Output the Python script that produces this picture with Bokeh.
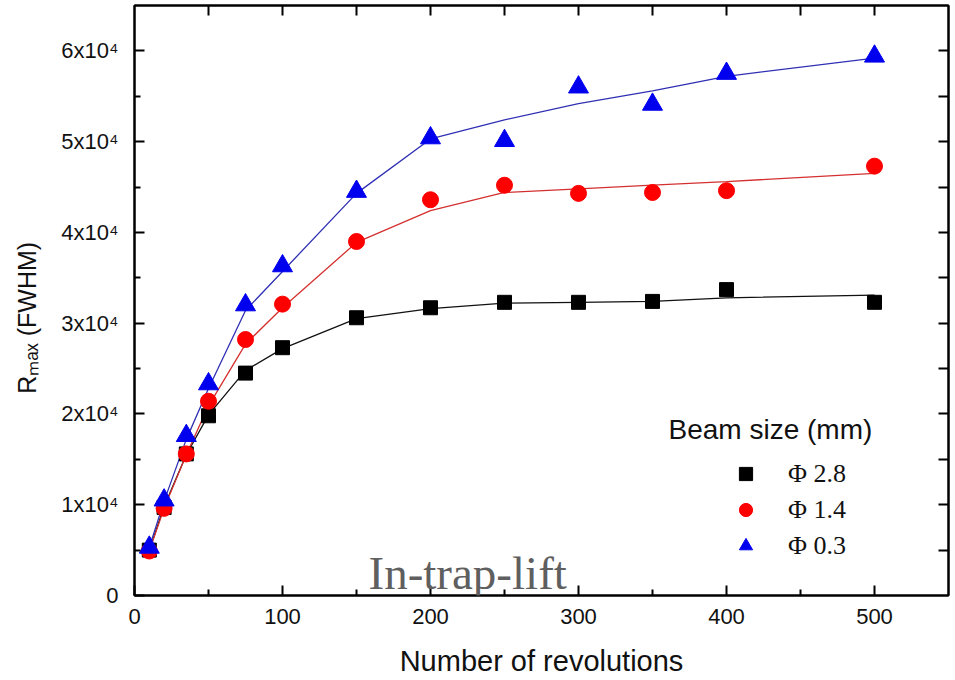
from bokeh.embed import file_html
from bokeh.models import (FixedTicker, Label, Legend, LegendItem, LinearAxis,
                          Range1d)
from bokeh.plotting import figure
from bokeh.resources import INLINE

# Number of revolutions at which R_max was measured
revolutions = [10, 20, 35, 50, 75, 100, 150, 200, 250, 300, 350, 400, 500]

# Measured R_max (FWHM) for each beam size
r_phi_28 = [5000, 9700, 15600, 19800, 24500, 27300, 30600, 31700, 32300, 32300, 32400, 33700, 32300]
r_phi_14 = [4900, 9600, 15600, 21400, 28200, 32100, 39000, 43600, 45200, 44300, 44400, 44600, 47300]
r_phi_03 = [5300, 10500, 17600, 23300, 32000, 36300, 44500, 50400, 50100, 56000, 54100, 57500, 59400]

# Fitted trend curves, evaluated at the same revolutions
fit_phi_28 = [5000, 9800, 15500, 19900, 24800, 27200, 30500, 31600, 32200, 32300, 32400, 32800, 33100]
fit_phi_14 = [4900, 9600, 15500, 20900, 27700, 31700, 38900, 42400, 44400, 44800, 45200, 45600, 46500]
fit_phi_03 = [5300, 10400, 17200, 22800, 31400, 35700, 44300, 50300, 52400, 54200, 55600, 57200, 59200]

series_labels = ["Φ 2.8", "Φ 1.4", "Φ 0.3"]

x_major = [0, 100, 200, 300, 400, 500]
x_minor = [50, 150, 250, 350, 450]
y_major = [0, 10000, 20000, 30000, 40000, 50000, 60000]
y_minor = [5000, 15000, 25000, 35000, 45000, 55000]
y_tick_labels = ["0", "1x10⁴", "2x10⁴", "3x10⁴", "4x10⁴", "5x10⁴", "6x10⁴"]

SANS = "Liberation Sans"
SERIF = "Liberation Serif"
INK = "#111111"

p = figure(
    width=955, height=680,
    x_range=Range1d(0, 550), y_range=Range1d(0, 65000),
    output_backend="svg", toolbar_location=None,
    min_border_left=134, min_border_right=7, min_border_top=5, min_border_bottom=85,
)
p.xgrid.grid_line_color = None
p.ygrid.grid_line_color = None
p.outline_line_color = "black"
p.outline_line_width = 2
p.background_fill_color = "white"
p.border_fill_color = "white"


def style_ticks(ax, major_len=10, minor_len=6):
    ax.axis_line_width = 2
    ax.axis_line_color = "black"
    ax.major_tick_in = major_len
    ax.major_tick_out = 0
    ax.minor_tick_in = minor_len
    ax.minor_tick_out = 0
    ax.major_tick_line_width = 2
    ax.minor_tick_line_width = 2
    ax.major_tick_line_color = "black"
    ax.minor_tick_line_color = "black"


xa = p.xaxis[0]
xa.ticker = FixedTicker(ticks=x_major, minor_ticks=x_minor)
style_ticks(xa)
xa.major_label_text_font = SANS
xa.major_label_text_font_size = "22px"
xa.major_label_text_color = INK
xa.major_label_standoff = 13
xa.axis_label = "Number of revolutions"
xa.axis_label_text_font = SANS
xa.axis_label_text_font_size = "29px"
xa.axis_label_text_font_style = "normal"
xa.axis_label_text_color = INK
xa.axis_label_standoff = 18

ya = p.yaxis[0]
ya.ticker = FixedTicker(ticks=y_major, minor_ticks=y_minor)
style_ticks(ya)
ya.major_label_overrides = {v: s for v, s in zip(y_major, y_tick_labels)}
ya.major_label_text_font = SANS
ya.major_label_text_font_size = "22px"
ya.major_label_text_color = INK
ya.major_label_standoff = 16
# rotated title; trailing no-break spaces nudge it below the frame centre
ya.axis_label = "Rₘₐₓ (FWHM)\u00a0\u00a0\u00a0\u00a0\u00a0"
ya.axis_label_text_font = SANS
ya.axis_label_text_font_size = "25px"
ya.axis_label_text_font_style = "normal"
ya.axis_label_text_color = INK
ya.axis_label_standoff = 17

# Mirror axes: ticks only, every 50 revolutions / 5000 units
top_ticks = sorted(x_major[1:] + x_minor)
right_ticks = sorted(y_major[1:] + y_minor)
top = LinearAxis(ticker=FixedTicker(ticks=top_ticks, minor_ticks=[]),
                 major_label_overrides={t: "" for t in top_ticks},
                 major_label_text_font_size="0px", major_label_standoff=0)
style_ticks(top)
right = LinearAxis(ticker=FixedTicker(ticks=right_ticks, minor_ticks=[]),
                   major_label_overrides={t: "" for t in right_ticks},
                   major_label_text_font_size="0px", major_label_standoff=0)
style_ticks(right)
p.add_layout(top, "above")
p.add_layout(right, "right")

# Fitted curves
p.line(revolutions, fit_phi_28, line_color=INK, line_width=1.3)
p.line(revolutions, fit_phi_14, line_color="#d43030", line_width=1.3)
p.line(revolutions, fit_phi_03, line_color="#3030b4", line_width=1.3)

# Measured points
sq = p.scatter(revolutions, r_phi_28, marker="square", size=14,
               fill_color="black", line_color="black")
ci = p.scatter(revolutions, r_phi_14, marker="circle", size=16,
               fill_color="#ff0000", line_color="#ff0000")
tr = p.scatter(revolutions, r_phi_03, marker="triangle", size=20,
               fill_color="#0000ee", line_color="#0000ee")

legend = Legend(
    items=[LegendItem(label=series_labels[0], renderers=[sq]),
           LegendItem(label=series_labels[1], renderers=[ci]),
           LegendItem(label=series_labels[2], renderers=[tr])],
    location=(595, 33), glyph_width=33, glyph_height=33,
    label_standoff=26, spacing=3, padding=0, margin=0,
    border_line_color=None, background_fill_alpha=0,
    label_text_font=SERIF, label_text_font_size="26px",
    label_text_color=INK,
)
p.add_layout(legend)


def screen_label(x, y, text, font, size, color=INK):
    return Label(x=x, y=y, x_units="screen", y_units="screen", text=text,
                 text_font=font, text_font_size=size, text_color=color,
                 text_align="left", text_baseline="alphabetic")


p.add_layout(screen_label(534, 166, "Beam size (mm)", SANS, "28px"))
p.add_layout(screen_label(234, 23, "In-trap-lift", SERIF, "47px", color="#5f5f5f"))

open("out.html", "w").write(file_html(p, INLINE))
